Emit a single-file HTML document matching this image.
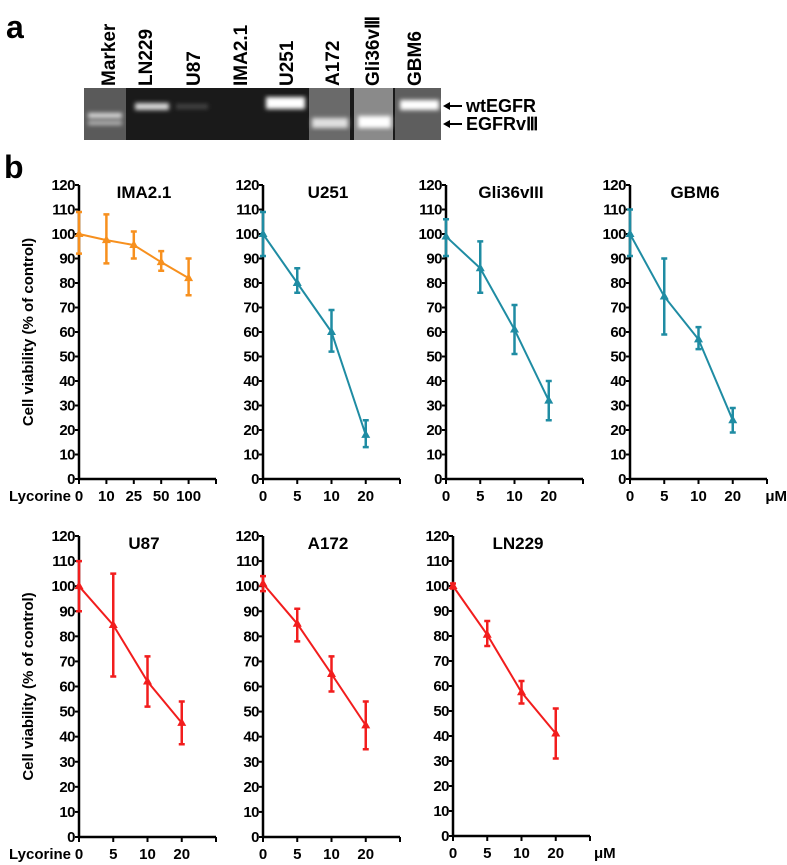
<!DOCTYPE html>
<html><head><meta charset="utf-8"><style>
body{margin:0;background:#fff;}
svg{display:block;font-family:"Liberation Sans",Arial,sans-serif;font-weight:bold;}
</style></head><body>
<svg id="fig" width="787" height="865" viewBox="0 0 787 865">
<g id="gel">
<text x="6" y="38" font-size="32">a</text>
<defs><filter id="blur"><feGaussianBlur stdDeviation="2"/></filter></defs>
<rect x="84" y="88" width="357" height="52" fill="#1a1a1a"/>
<rect x="84" y="88" width="42" height="52" fill="#5a5a5a"/>
<rect x="309" y="88" width="41" height="52" fill="#6a6a6a"/>
<rect x="354" y="88" width="39" height="52" fill="#8a8a8a"/>
<rect x="395" y="88" width="46" height="52" fill="#5e5e5e"/>
<g filter="url(#blur)">
<rect x="88" y="113" width="34" height="5" fill="#ddd"/>
<rect x="88" y="121" width="34" height="4" fill="#bbb"/>
<rect x="135" y="103" width="34" height="7" fill="#d8d8d8"/>
<rect x="176" y="104" width="32" height="5" fill="#444"/>
<rect x="266" y="97" width="39" height="12" fill="#fff"/>
<rect x="312" y="118" width="36" height="10" fill="#e0e0e0"/>
<rect x="358" y="116" width="33" height="12" fill="#fff"/>
<rect x="400" y="100" width="39" height="10" fill="#fff"/>
</g>
<g font-size="19">
<text transform="translate(115,86) rotate(-90)">Marker</text>
<text transform="translate(152,86) rotate(-90)">LN229</text>
<text transform="translate(200,86) rotate(-90)">U87</text>
<text transform="translate(247,86) rotate(-90)">IMA2.1</text>
<text transform="translate(293,86) rotate(-90)">U251</text>
<text transform="translate(339,86) rotate(-90)">A172</text>
<text transform="translate(379,86) rotate(-90)">Gli36vⅢ</text>
<text transform="translate(421,86) rotate(-90)">GBM6</text>
</g>
<g stroke="#000" stroke-width="2">
<line x1="446" y1="106" x2="462" y2="106"/><line x1="446" y1="124" x2="462" y2="124"/>
</g>
<path d="M443 106 l7 -4 v8z M443 124 l7 -4 v8z" fill="#000"/>
<text x="466" y="112" font-size="18">wtEGFR</text>
<text x="466" y="130" font-size="18">EGFRvⅢ</text>
</g>
<text x="4" y="178" font-size="32">b</text>
</svg>
<script>
const titles=["IMA2.1","U251","Gli36vIII","GBM6","U87","A172","LN229"];
const xLabels1=["0","10","25","50","100"];
const xLabels2=["0","5","10","20"];
const ima=[100,97.5,95.5,88.5,82]; const imaLo=[92,88,90,85,75]; const imaHi=[109,108,101,93,90];
const u251=[100,80,60,18]; const u251Lo=[91,76,52,13]; const u251Hi=[109,86,69,24];
const gli=[99,86,61,32]; const gliLo=[91,76,51,24]; const gliHi=[106,97,71,40];
const gbm=[100,74.5,57,24]; const gbmLo=[91,59,53,19]; const gbmHi=[110,90,62,29];
const u87=[100,84.5,62,45.5]; const u87Lo=[90,64,52,37]; const u87Hi=[110,105,72,54];
const a172=[101,85,65,44.5]; const a172Lo=[98,78,58,35]; const a172Hi=[104,91,72,54];
const ln229=[100,80.5,57.5,41]; const ln229Lo=[99,76,53,31]; const ln229Hi=[101,86,62,51];
const yTicks=[0,10,20,30,40,50,60,70,80,90,100,110,120];

const NS="http://www.w3.org/2000/svg";
const svg=document.getElementById('fig');
function mk(tag,attrs,parent){const e=document.createElementNS(NS,tag);for(const k in attrs)e.setAttribute(k,attrs[k]);(parent||svg).appendChild(e);return e;}
const panels=[
 {t:0,ax:79,y0:479,y120:185,xl:xLabels1,v:ima,lo:imaLo,hi:imaHi,c:"#f7901e",yl:true,lyc:true},
 {t:1,ax:263,y0:479,y120:185,xl:xLabels2,v:u251,lo:u251Lo,hi:u251Hi,c:"#1f8ca3"},
 {t:2,ax:446,y0:479,y120:185,xl:xLabels2,v:gli,lo:gliLo,hi:gliHi,c:"#1f8ca3"},
 {t:3,ax:630,y0:479,y120:185,xl:xLabels2,v:gbm,lo:gbmLo,hi:gbmHi,c:"#1f8ca3",um:true,umEnd:787},
 {t:4,ax:79,y0:837,y120:536,xl:xLabels2,v:u87,lo:u87Lo,hi:u87Hi,c:"#f21d1d",yl:true,lyc:true},
 {t:5,ax:263,y0:837,y120:536,xl:xLabels2,v:a172,lo:a172Lo,hi:a172Hi,c:"#f21d1d"},
 {t:6,ax:453,y0:836,y120:536,xl:xLabels2,v:ln229,lo:ln229Lo,hi:ln229Hi,c:"#f21d1d",um:true}
];
panels.forEach(p=>{
 const g=mk('g',{});
 
 
 const W=137, n=p.xl.length, step=W/(n);
 const sy=v=>p.y0-(v/120)*(p.y0-p.y120);
 const sx=i=>p.ax+i*step;
 const yax=mk('line',{x1:p.ax,y1:p.y120,x2:p.ax,y2:p.y0,stroke:'#000','stroke-width':2.5},g);
 
 
 const xax=mk('line',{x1:p.ax,y1:p.y0,x2:p.ax+W,y2:p.y0,stroke:'#000','stroke-width':2.5},g);
 
 
 yTicks.forEach(t=>{
  mk('line',{x1:p.ax-4,y1:sy(t),x2:p.ax,y2:sy(t),stroke:'#000','stroke-width':2},g);
  const tx=mk('text',{x:p.ax-4,y:sy(t)+5,'font-size':15,'text-anchor':'end','letter-spacing':'-0.5'},g);
  tx.textContent=t;
  
  
 });
 for(let i=0;i<=n;i++) mk('line',{x1:sx(i),y1:p.y0,x2:sx(i),y2:p.y0+5,stroke:'#000','stroke-width':2},g);
 p.xl.forEach((l,i)=>{
  const tx=mk('text',{x:sx(i),y:p.y0+22,'font-size':15,'text-anchor':'middle'},g);
  tx.textContent=l;
  
  
 });
 const tt=mk('text',{x:p.ax+65,y:p.y120+13,'font-size':17,'text-anchor':'middle'},g);
 tt.textContent=titles[p.t];
 
 
 if(p.lyc){const l=mk('text',{x:p.ax-8,y:p.y0+22,'font-size':15,'text-anchor':'end'},g);l.textContent='Lycorine';
  
  }
 if(p.um){const l=p.umEnd?mk('text',{x:p.umEnd,y:p.y0+22,'font-size':15,'text-anchor':'end'},g):mk('text',{x:p.ax+W+4,y:p.y0+22,'font-size':15},g);l.textContent='μM';
  
  }
 if(p.yl){const cy=(p.y0+p.y120)/2;const l=mk('text',{x:0,y:0,'font-size':15,'text-anchor':'middle',transform:`translate(33,${cy}) rotate(-90)`},g);l.textContent='Cell viability (% of control)';
  
  }
 const pts=p.v.map((v,i)=>sx(i)+','+sy(v)).join(' ');
 const pl=mk('polyline',{points:pts,fill:'none',stroke:p.c,'stroke-width':2},g);
 
 
 p.v.forEach((v,i)=>{
  const x=sx(i);
  const eb=mk('path',{d:`M${x} ${sy(p.lo[i])}V${sy(p.hi[i])}M${x-3} ${sy(p.lo[i])}h6M${x-3} ${sy(p.hi[i])}h6`,stroke:p.c,'stroke-width':2.5,fill:'none'},g);
  
  
  const y=sy(v);
  const m=mk('path',{d:`M${x} ${y-5}L${x+4.5} ${y+3}L${x-4.5} ${y+3}Z`,fill:p.c},g);
  
  
 });
});
</script>
</body></html>
